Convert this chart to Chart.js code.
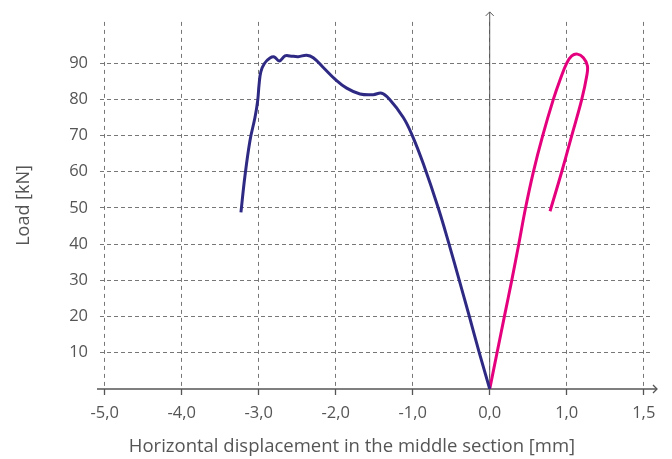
<!DOCTYPE html>
<html><head><meta charset="utf-8">
<script src="https://cdn.jsdelivr.net/npm/chart.js@4/dist/chart.umd.min.js"></script>
<style>html,body{margin:0;padding:0;background:#fff;}</style>
</head><body>
<canvas id="c" width="672" height="459" style="display:block;width:672px;height:459px"></canvas>
<script>
// tick positions and labels
const xTicks = [-5, -4, -3, -2, -1, 0, 1, 2];
const xTickLabels = ['-5,0', '-4,0', '-3,0', '-2,0', '-1,0', '0,0', '1,0', '1,5'];
const yTicks = [10, 20, 30, 40, 50, 60, 70, 80, 90];

// series 1 (dark blue)
const blueX = [-3.23, -3.18, -3.113, -3.048, -3.013, -2.995, -2.972, -2.925, -2.853, -2.797, -2.732, -2.658, -2.595, -2.486, -2.377, -2.291, -2.161, -2.009, -1.857, -1.684, -1.512, -1.403, -1.304, -1.122, -1.005, -0.862, -0.668, -0.529, -0.395, -0.265, -0.135, 0];
const blueY = [48.8, 58.5, 68.6, 75.0, 79.6, 84.0, 87.6, 89.9, 91.4, 91.7, 90.6, 92.0, 92.0, 91.8, 92.2, 91.5, 88.8, 85.6, 83.1, 81.5, 81.3, 81.7, 80.1, 75.0, 70.0, 62.2, 50.0, 40.1, 30.0, 20.1, 10.0, 0];

// series 2 (magenta)
const pinkX = [0, 0.095, 0.19, 0.286, 0.377, 0.465, 0.567, 0.688, 0.826, 0.915, 1.0, 1.065, 1.138, 1.216, 1.268, 1.26, 1.195, 1.065, 0.935, 0.783];
const pinkY = [0, 10.0, 20.0, 30.0, 40.0, 50.0, 60.0, 70.0, 80.0, 85.5, 90.0, 92.0, 92.5, 91.5, 89.3, 86.5, 80.0, 70.0, 60.0, 49.1];

const xTitle = 'Horizontal displacement in the middle section [mm]';
const yTitle = 'Load [kN]';

const FONT = "'Open Sans', 'DejaVu Sans', sans-serif";
const TEXT = '#555';

const toPts = (xs, ys) => xs.map((v, i) => ({x: v, y: ys[i]}));

const axesPlugin = {
  id: 'axesArrows',
  beforeDatasetsDraw(chart) {
    const {ctx, scales: {x, y}, chartArea: ca} = chart;
    const x0 = x.getPixelForValue(0), y0 = y.getPixelForValue(0);
    ctx.save();
    ctx.strokeStyle = '#555';
    ctx.lineWidth = 1.3;
    ctx.beginPath(); ctx.moveTo(ca.left - 3, y0); ctx.lineTo(ca.right + 4, y0); ctx.stroke();
    ctx.beginPath(); ctx.moveTo(ca.right, y0 - 4); ctx.lineTo(ca.right + 4, y0); ctx.lineTo(ca.right, y0 + 4); ctx.stroke();
    ctx.lineWidth = 1;
    ctx.beginPath(); ctx.moveTo(x0, y0); ctx.lineTo(x0, ca.top - 10); ctx.stroke();
    ctx.beginPath(); ctx.moveTo(x0 - 4, ca.top - 6); ctx.lineTo(x0, ca.top - 10); ctx.lineTo(x0 + 4, ca.top - 6); ctx.stroke();
    ctx.restore();
  },
  afterDraw(chart) {
    const {ctx} = chart;
    ctx.save();
    ctx.fillStyle = TEXT;
    ctx.font = "18.5px " + FONT;
    ctx.textAlign = 'center';
    ctx.textBaseline = 'middle';
    ctx.fillText(xTitle, 352, 447);
    ctx.restore();
  }
};

new Chart(document.getElementById('c'), {
  type: 'scatter',
  data: {
    datasets: [
      {data: toPts(blueX, blueY), showLine: true, borderColor: '#2e2a84', borderWidth: 3, pointRadius: 0, tension: 0.4, fill: false},
      {data: toPts(pinkX, pinkY), showLine: true, borderColor: '#e5007e', borderWidth: 3, pointRadius: 0, tension: 0.4, fill: false}
    ]
  },
  plugins: [axesPlugin],
  options: {
    responsive: false,
    animation: false,
    devicePixelRatio: 1,
    layout: {padding: {top: 21, right: 19, left: 0, bottom: 0}},
    plugins: {legend: {display: false}, tooltip: {enabled: false}},
    scales: {
      x: {
        type: 'linear', min: -5.06, max: 2.12,
        afterBuildTicks: s => { s.ticks = xTicks.map(v => ({value: v})); },
        afterFit: s => { s.height = 70; },
        ticks: {
          callback: v => { const i = xTicks.indexOf(v); return i >= 0 ? xTickLabels[i] : ''; },
          font: {family: FONT, size: 16.5}, color: TEXT, padding: 8, maxRotation: 0, autoSkip: false
        },
        grid: {color: '#777', lineWidth: 1, drawTicks: true, tickLength: 6, tickColor: '#555', tickWidth: 1.3, tickBorderDash: []},
        border: {display: false, dash: [4, 4]}
      },
      y: {
        type: 'linear', min: 0, max: 101.4,
        afterBuildTicks: s => { s.ticks = yTicks.map(v => ({value: v})); },
        afterFit: s => { s.width = 100; },
        ticks: {font: {family: FONT, size: 16.5}, color: TEXT, padding: 12, autoSkip: false},
        grid: {color: '#777', lineWidth: 1, drawTicks: false},
        border: {display: false, dash: [4, 3]},
        title: {display: true, text: yTitle, font: {family: FONT, size: 18}, color: TEXT, padding: {top: 13, bottom: 0}}
      }
    }
  }
});
</script>
</body></html>
